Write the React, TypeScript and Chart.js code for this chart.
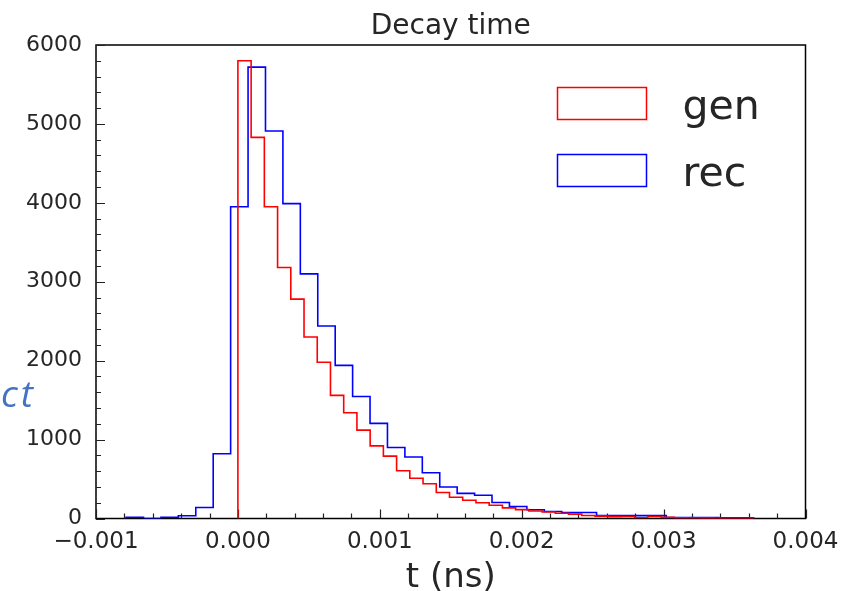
import React, { useEffect, useRef } from "react";
import { Chart, registerables } from "chart.js";

Chart.register(...registerables);

// ---- data ----
const chartTitle = "Decay time";
const xAxisTitle = "t (ns)";
const sideNote = "ct";

// gen histogram: bins start at 0, fixed width
const genLabel = "gen";
const genStart = 0;
const genBinWidth = 0.0000932;
const genCounts = [
  5800, 4830, 3950, 3180, 2780, 2300, 1980, 1560, 1340, 1120,
  920, 790, 605, 510, 440, 330, 270, 232, 200, 168,
  135, 112, 95, 82, 66, 56, 38, 30, 24, 25,
  10, 25, 14, 8, 6, 5, 4, 3, 2,
];

// rec histogram
const recLabel = "rec";
const recStart = -0.000788;
const recBinWidth = 0.0001228;
const recCounts = [
  15, 0, 15, 34, 140, 820,
  3950, 5720, 4910, 3990, 3100, 2440, 1940, 1545, 1205, 900,
  780, 580, 400, 318, 295, 203, 152, 110, 89, 76,
  76, 36, 36, 36, 36, 13, 13, 13, 10, 10,
];

// axes
const xMin = -0.001;
const xMax = 0.004;
const xMajorStep = 0.001;
const xMinorStep = 0.0002;
const yMin = 0;
const yMax = 6000;
const yMajorStep = 1000;
const yMinorStep = 200;

const FONT = '"DejaVu Sans", sans-serif';
const TEXT = "#262626";

function stepPoints(start: number, width: number, counts: number[]) {
  const pts: { x: number; y: number }[] = [{ x: start, y: 0 }];
  counts.forEach((c, i) => {
    const x0 = start + i * width;
    pts.push({ x: x0, y: c }, { x: x0 + width, y: c });
  });
  pts.push({ x: start + counts.length * width, y: 0 });
  return pts;
}

const decor = {
  id: "decor",
  beforeDatasetsDraw(chart: any) {
    const { ctx, chartArea: a, scales } = chart;
    const xs = scales.x;
    const ys = scales.y;
    ctx.save();
    ctx.strokeStyle = "#000";
    ctx.lineWidth = 1.5;
    ctx.strokeRect(a.left, a.top, a.right - a.left, a.bottom - a.top);
    ctx.lineWidth = 1.2;
    ctx.strokeStyle = "#222";
    ctx.beginPath();
    const nx = Math.round((xMax - xMin) / xMinorStep);
    const perX = Math.round(xMajorStep / xMinorStep);
    for (let i = 0; i <= nx; i++) {
      const px = Math.round(xs.getPixelForValue(xMin + i * xMinorStep)) + 0.5;
      const len = i % perX === 0 ? 9 : 5;
      ctx.moveTo(px, a.bottom);
      ctx.lineTo(px, a.bottom - len);
    }
    const ny = Math.round((yMax - yMin) / yMinorStep);
    const perY = Math.round(yMajorStep / yMinorStep);
    for (let i = 0; i <= ny; i++) {
      const py = Math.round(ys.getPixelForValue(yMin + i * yMinorStep)) + 0.5;
      const len = i % perY === 0 ? 9 : 5;
      ctx.moveTo(a.left, py);
      ctx.lineTo(a.left + len, py);
    }
    ctx.stroke();
    ctx.restore();
  },
  afterDraw(chart: any) {
    const { ctx, chartArea: a } = chart;
    ctx.save();
    // title
    ctx.fillStyle = TEXT;
    ctx.font = `28px ${FONT}`;
    ctx.textAlign = "center";
    ctx.textBaseline = "alphabetic";
    ctx.fillText(chartTitle, (a.left + a.right) / 2, a.top - 11);

    // legend
    const ds = chart.data.datasets;
    const boxX = a.right - 248;
    const boxW = 89;
    const boxH = 32;
    const rowTop = [a.top + 42.5, a.top + 109.5];
    ctx.textAlign = "left";
    ctx.font = `41px ${FONT}`;
    ds.forEach((d: any, i: number) => {
      ctx.strokeStyle = d.borderColor;
      ctx.lineWidth = 1.5;
      ctx.strokeRect(boxX, rowTop[i], boxW, boxH);
      ctx.fillStyle = TEXT;
      ctx.fillText(d.label, boxX + 125, rowTop[i] + 31);
    });

    // side note
    ctx.fillStyle = "#4472C4";
    ctx.font = `italic 37px "Open Sans", sans-serif`;
    try {
      (ctx as any).letterSpacing = "3px";
    } catch (e) {}
    ctx.fillText(sideNote, 1, 407);
    ctx.restore();
  },
};

export default function App() {
  const ref = useRef<HTMLCanvasElement | null>(null);
  useEffect(() => {
    document.body.style.margin = "0";
    const canvas = ref.current!;
    const chart = new Chart(canvas, {
      type: "line",
      data: {
        datasets: [
          {
            label: genLabel,
            data: stepPoints(genStart, genBinWidth, genCounts),
            borderColor: "#ff0000",
            backgroundColor: "transparent",
            borderWidth: 1.6,
            pointRadius: 0,
            tension: 0,
            fill: false,
          },
          {
            label: recLabel,
            data: stepPoints(recStart, recBinWidth, recCounts),
            borderColor: "#0000ff",
            backgroundColor: "transparent",
            borderWidth: 1.6,
            pointRadius: 0,
            tension: 0,
            fill: false,
          },
        ],
      },
      options: {
        animation: false,
        responsive: false,
        devicePixelRatio: 1,
        events: [],
        layout: { padding: { top: 45, right: 35.5, bottom: 0, left: 0 } },
        plugins: {
          legend: { display: false },
          tooltip: { enabled: false },
          title: { display: false },
        },
        scales: {
          x: {
            type: "linear",
            min: xMin,
            max: xMax,
            grid: { display: false, drawTicks: false },
            border: { display: false },
            ticks: {
              stepSize: xMajorStep,
              autoSkip: false,
              maxRotation: 0,
              padding: 10,
              color: TEXT,
              font: { family: FONT, size: 23 },
              callback: (v: any) => {
                const n = Number(v);
                const s = Math.abs(n).toFixed(3);
                return n < -1e-9 ? "\u2212" + s : s;
              },
            },
            title: {
              display: true,
              text: xAxisTitle,
              color: TEXT,
              padding: 0,
              font: { family: FONT, size: 34, lineHeight: 0.75 },
            },
            afterFit: (s: any) => {
              s.height = 72.5;
              s.paddingLeft = 0;
              s.paddingRight = 0;
            },
          },
          y: {
            type: "linear",
            min: yMin,
            max: yMax,
            grid: { display: false, drawTicks: false },
            border: { display: false },
            ticks: {
              stepSize: yMajorStep,
              padding: 14,
              color: TEXT,
              font: { family: FONT, size: 22 },
              callback: (v: any) => String(Math.round(Number(v))),
            },
            afterFit: (s: any) => {
              s.width = 96;
              s.paddingTop = 0;
              s.paddingBottom = 0;
            },
          },
        },
      },
      plugins: [decor],
    });
    return () => chart.destroy();
  }, []);
  return (
    <div style={{ position: "absolute", left: 0, top: 0, width: 841, height: 591, background: "#fff" }}>
      <canvas ref={ref} width={841} height={591} style={{ width: 841, height: 591, display: "block" }} />
    </div>
  );
}
